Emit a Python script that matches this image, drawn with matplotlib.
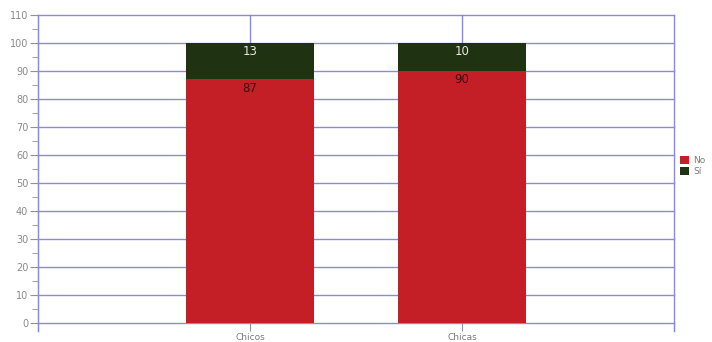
import matplotlib
matplotlib.use("Agg")
import matplotlib.pyplot as plt
import numpy as np

categories = ["Chicos", "Chicas"]
no_vals = [87, 90]
si_vals = [13, 10]
series_names = ["No", "Sí"]
y_ticks = list(range(0, 111, 10))

red = "#c41f26"
green = "#1f3211"
grid_c = "#8a8ad8"

fig = plt.figure(figsize=(7.12, 3.42), dpi=100)
ax = fig.add_axes([38/712, 1-323/342, (674-38)/712, (323-15)/342])

x = np.arange(1, len(categories)+1)
w = 0.6
b1 = ax.bar(x, no_vals, width=w, color=red, zorder=3, label=series_names[0])
b2 = ax.bar(x, si_vals, width=w, bottom=no_vals, color=green, zorder=3, label=series_names[1])

for xi, n, s in zip(x, no_vals, si_vals):
    ax.text(xi, n - 0.8, str(n), ha="center", va="top", fontsize=8.5, color="#3a0d0d", zorder=4)
    ax.text(xi, n + s - 0.8, str(s), ha="center", va="top", fontsize=8.5, color="#e8e8e0", zorder=4)

ax.set_xlim(0, 3)
ax.set_ylim(0, 110)
ax.set_yticks(y_ticks)
ax.set_yticks(range(5, 110, 10), minor=True)
ax.set_xticks([0, 1, 2, 3])
ax.set_xticklabels([""] + categories + [""])
ax.grid(True, which="major", color=grid_c, linewidth=1.0, zorder=1)
for gl in ax.get_xgridlines() + ax.get_ygridlines():
    gl.set_clip_on(False)
for sp in ["top", "right", "bottom"]:
    ax.spines[sp].set_visible(False)
ax.spines["left"].set_color(grid_c)
ax.tick_params(axis="y", which="major", length=6, color="#9090a0", labelsize=7, labelcolor="#8a8a8a", pad=1)
ax.tick_params(axis="y", which="minor", length=4, color="#9090a0")
ax.tick_params(axis="x", length=6, color="#9090a0", labelsize=6.5, labelcolor="#7a7a7a", pad=1)
ax.plot([0, 0], [-3, 0], color=grid_c, lw=1, clip_on=False)
ax.plot([3, 3], [-3, 0], color=grid_c, lw=1, clip_on=False)

leg = ax.legend(loc="center left", bbox_to_anchor=(1.0, 0.51), frameon=False, fontsize=6.5,
                handlelength=1.0, handleheight=1.0, handletextpad=0.4, labelspacing=0.2,
                borderaxespad=0.3)
for t in leg.get_texts():
    t.set_color("#7a7a7a")

fig.savefig("out.png", dpi=100)
